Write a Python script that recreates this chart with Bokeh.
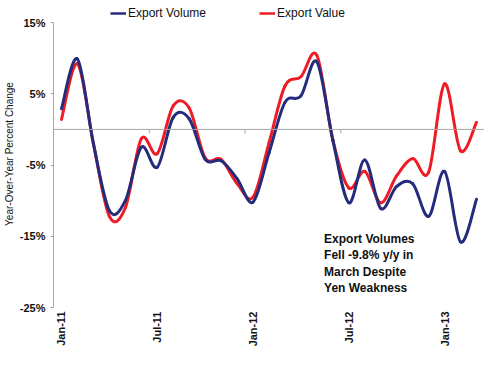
from math import pi
from bokeh.plotting import figure
from bokeh.models import (Range1d, FixedTicker, PrintfTickFormatter, Span, Label,
                          Legend, LegendItem, ColumnDataSource)
from bokeh.embed import file_html
from bokeh.resources import INLINE

months = ["Jan-11", "Feb-11", "Mar-11", "Apr-11", "May-11", "Jun-11", "Jul-11",
          "Aug-11", "Sep-11", "Oct-11", "Nov-11", "Dec-11", "Jan-12", "Feb-12",
          "Mar-12", "Apr-12", "May-12", "Jun-12", "Jul-12", "Aug-12", "Sep-12",
          "Oct-12", "Nov-12", "Dec-12", "Jan-13", "Feb-13", "Mar-13"]
export_volume = [2.9, 9.9, -2.0, -11.4, -10.0, -2.5, -5.3, 1.7, 1.5, -4.2, -4.4,
                 -6.9, -10.2, -3.3, 3.8, 4.7, 9.5, -1.5, -10.3, -4.3, -11.1, -8.0,
                 -7.6, -12.2, -5.9, -15.8, -9.8]
export_value = [1.4, 9.2, -2.0, -12.2, -11.0, -1.3, -3.4, 3.3, 3.0, -4.0, -4.2,
                -7.6, -9.5, -1.9, 6.1, 7.4, 10.4, -1.5, -8.2, -5.9, -10.3, -6.5,
                -4.1, -6.0, 6.4, -3.0, 1.0]
x_tick_labels = ["Jan-11", "Jul-11", "Jan-12", "Jul-12", "Jan-13"]
y_ticks = [-25, -15, -5, 5, 15]

BLUE = "#252C7C"
RED = "#EE1C25"
GRAY = "#A6A6A6"
FONT = "Liberation Sans"

xs = list(range(len(months)))


def bezier_source(x, y):
    n = len(y)
    d = dict(x0=[], y0=[], x1=[], y1=[], cx0=[], cy0=[], cx1=[], cy1=[])
    for i in range(n - 1):
        a = i - 1 if i > 0 else i
        b = i + 2 if i + 2 < n else i + 1
        d["x0"].append(x[i]); d["y0"].append(y[i])
        d["x1"].append(x[i + 1]); d["y1"].append(y[i + 1])
        d["cx0"].append(x[i] + (x[i + 1] - x[a]) / 6)
        d["cy0"].append(y[i] + (y[i + 1] - y[a]) / 6)
        d["cx1"].append(x[i + 1] - (x[b] - x[i]) / 6)
        d["cy1"].append(y[i + 1] - (y[b] - y[i]) / 6)
    return ColumnDataSource(d)


p = figure(width=484, height=349, output_backend="svg", toolbar_location=None,
           title=None,
           x_range=Range1d(-0.5, len(months) - 0.5), y_range=Range1d(-25, 18.1),
           min_border_left=45, min_border_right=0, min_border_top=0,
           min_border_bottom=38)
p.outline_line_color = None
p.grid.visible = False

# zero line with boundary ticks
p.add_layout(Span(location=0, dimension="width", line_color=GRAY, line_width=1))
tick_pos = [months.index(l) - 0.5 for l in x_tick_labels[1:]]
p.segment(x0=tick_pos, x1=tick_pos, y0=[0] * len(tick_pos), y1=[-0.55] * len(tick_pos),
          line_color=GRAY, line_width=1)

for vals, col in ((export_value, RED), (export_volume, BLUE)):
    p.bezier(x0="x0", y0="y0", x1="x1", y1="y1", cx0="cx0", cy0="cy0",
             cx1="cx1", cy1="cy1", source=bezier_source(xs, vals),
             line_color=col, line_width=3, line_cap="round")

# legend swatches: one-point lines (draw nothing in the plot, only in the legend)
lv = p.line(x=xs[:1], y=export_volume[:1], line_color=BLUE, line_width=2.5)
lr = p.line(x=xs[:1], y=export_value[:1], line_color=RED, line_width=2.5)
legend = Legend(items=[LegendItem(label="Export Volume", renderers=[lv]),
                       LegendItem(label="Export Value", renderers=[lr])],
                orientation="horizontal", location=(57, 287), spacing=53,
                padding=0, margin=0, glyph_width=16, glyph_height=12,
                label_height=12, label_standoff=2, label_text_font=FONT,
                label_text_font_size="12px", label_text_color="#111111",
                border_line_color=None, background_fill_alpha=0)
p.add_layout(legend, "center")

# x axis
xa = p.xaxis[0]
xa.ticker = FixedTicker(ticks=[months.index(l) for l in x_tick_labels])
xa.major_label_overrides = {months.index(l): l for l in x_tick_labels}
xa.major_label_orientation = pi / 2
xa.axis_line_color = None
xa.major_tick_line_color = None
xa.major_tick_out = 0
xa.major_tick_in = 0
xa.minor_tick_line_color = None
xa.minor_tick_out = 0
xa.minor_tick_in = 0
xa.major_label_standoff = 4
xa.major_label_text_font = FONT
xa.major_label_text_font_style = "bold"
xa.major_label_text_font_size = "11px"
xa.major_label_text_color = "#111111"

# y axis
ya = p.yaxis[0]
ya.bounds = (-25, 15)
ya.ticker = FixedTicker(ticks=y_ticks)
ya.formatter = PrintfTickFormatter(format="%d%%")
ya.axis_line_color = GRAY
ya.major_tick_line_color = GRAY
ya.major_tick_out = 3
ya.major_tick_in = 0
ya.minor_tick_line_color = None
ya.major_label_standoff = 5
ya.major_label_text_font = FONT
ya.major_label_text_font_style = "bold"
ya.major_label_text_font_size = "11px"
ya.major_label_text_color = "#111111"
ya.axis_label = "Year-Over-Year Percent Change"
ya.axis_label_text_font = FONT
ya.axis_label_text_font_style = "normal"
ya.axis_label_text_font_size = "10px"
ya.axis_label_text_color = "#111111"
ya.axis_label_standoff = 2

p.add_layout(Label(x=16.45, y=-14.4,
                   text="Export Volumes\nFell -9.8% y/y in\nMarch Despite\nYen Weakness",
                   text_font=FONT, text_font_style="bold", text_font_size="12px",
                   text_baseline="top", text_align="left", text_color="#111111",
                   text_line_height=1.17))

open("out.html", "w").write(file_html(p, INLINE))
